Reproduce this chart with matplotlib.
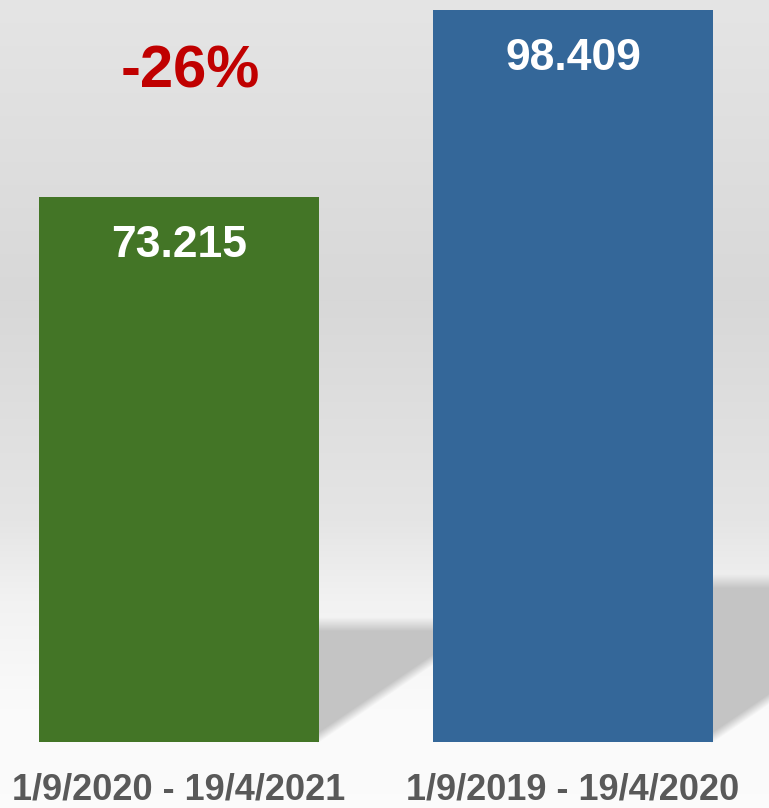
import numpy as np
import matplotlib
matplotlib.use('Agg')
import matplotlib.pyplot as plt
from matplotlib import font_manager

periods = ['1/9/2020 - 19/4/2021', '1/9/2019 - 19/4/2020']
values = [73.215, 98.409]
value_labels = ['73.215', '98.409']
change_label = '-26%'
bar_colors = ['#437526', '#346799']

names = {f.name for f in font_manager.fontManager.ttflist}
narrow = 'Liberation Sans Narrow' if 'Liberation Sans Narrow' in names else 'Liberation Sans'

W, H = 769, 808
fig = plt.figure(figsize=(W / 100, H / 100), dpi=100)

# background gradient + soft shadows, drawn as an image behind everything
bg_ax = fig.add_axes([0, 0, 1, 1])
bg_ax.set_axis_off()

ymax = 99.75
ax = fig.add_axes([0, 66 / H, 1, 742 / H])
ax.set_xlim(-0.4543, 1.4975)
ax.set_ylim(0, ymax)
ax.set_axis_off()
ax.patch.set_alpha(0)
upx = ymax / 742  # data units per pixel

bars = ax.bar([0, 1], values, width=0.7107, color=bar_colors, zorder=3)

# vertical gradient
yy = np.arange(H)[:, None].astype(float)
stops_y = [0, 300, 520, 600, 700, H]
stops_v = [0.898, 0.847, 0.898, 0.949, 0.980, 0.985]
img = np.interp(yy, stops_y, stops_v) * np.ones((1, W))

xx = np.arange(W)[None, :].astype(float)
fig.canvas.draw()
for b in bars:
    (x0, y0), (x1, y1) = ax.transData.transform([(b.get_x(), 0), (b.get_x() + b.get_width(), b.get_height())])
    base = H - y0          # baseline row from top
    hpx = y1 - y0          # bar height in px
    sh = 0.23 * hpx        # shadow height
    u = base - yy          # px above baseline
    d_top = (sh - u) / 14.0
    d_diag = (u - (xx - x1) * 0.68) / 11.0
    a = np.clip(d_top, 0, 1) * np.clip(d_diag, 0, 1) * (xx >= x1 - 2) * (u > -3)
    img = img * (1 - a) + 0.77 * a

bg_ax.imshow(np.dstack([img] * 3), extent=[0, W, H, 0], aspect='auto', interpolation='bilinear')
bg_ax.set_xlim(0, W)
bg_ax.set_ylim(H, 0)

for b, lab in zip(bars, value_labels):
    ax.text(b.get_x() + b.get_width() / 2, b.get_height() - 60 * upx, lab, ha='center', va='baseline',
            color='white', fontsize=32, fontweight='bold', family=narrow, zorder=4)

ax.text(0.028, ymax - 88 * upx, change_label, ha='center', va='baseline', color='#c00000',
        fontsize=43, fontweight='bold', family=narrow, zorder=4)

for i, p in enumerate(periods):
    ax.text(i, -58 * upx, p, ha='center', va='baseline', color='#595959', fontsize=26,
            fontweight='bold', family=narrow, clip_on=False, zorder=4)

fig.savefig('out.png', dpi=100)
